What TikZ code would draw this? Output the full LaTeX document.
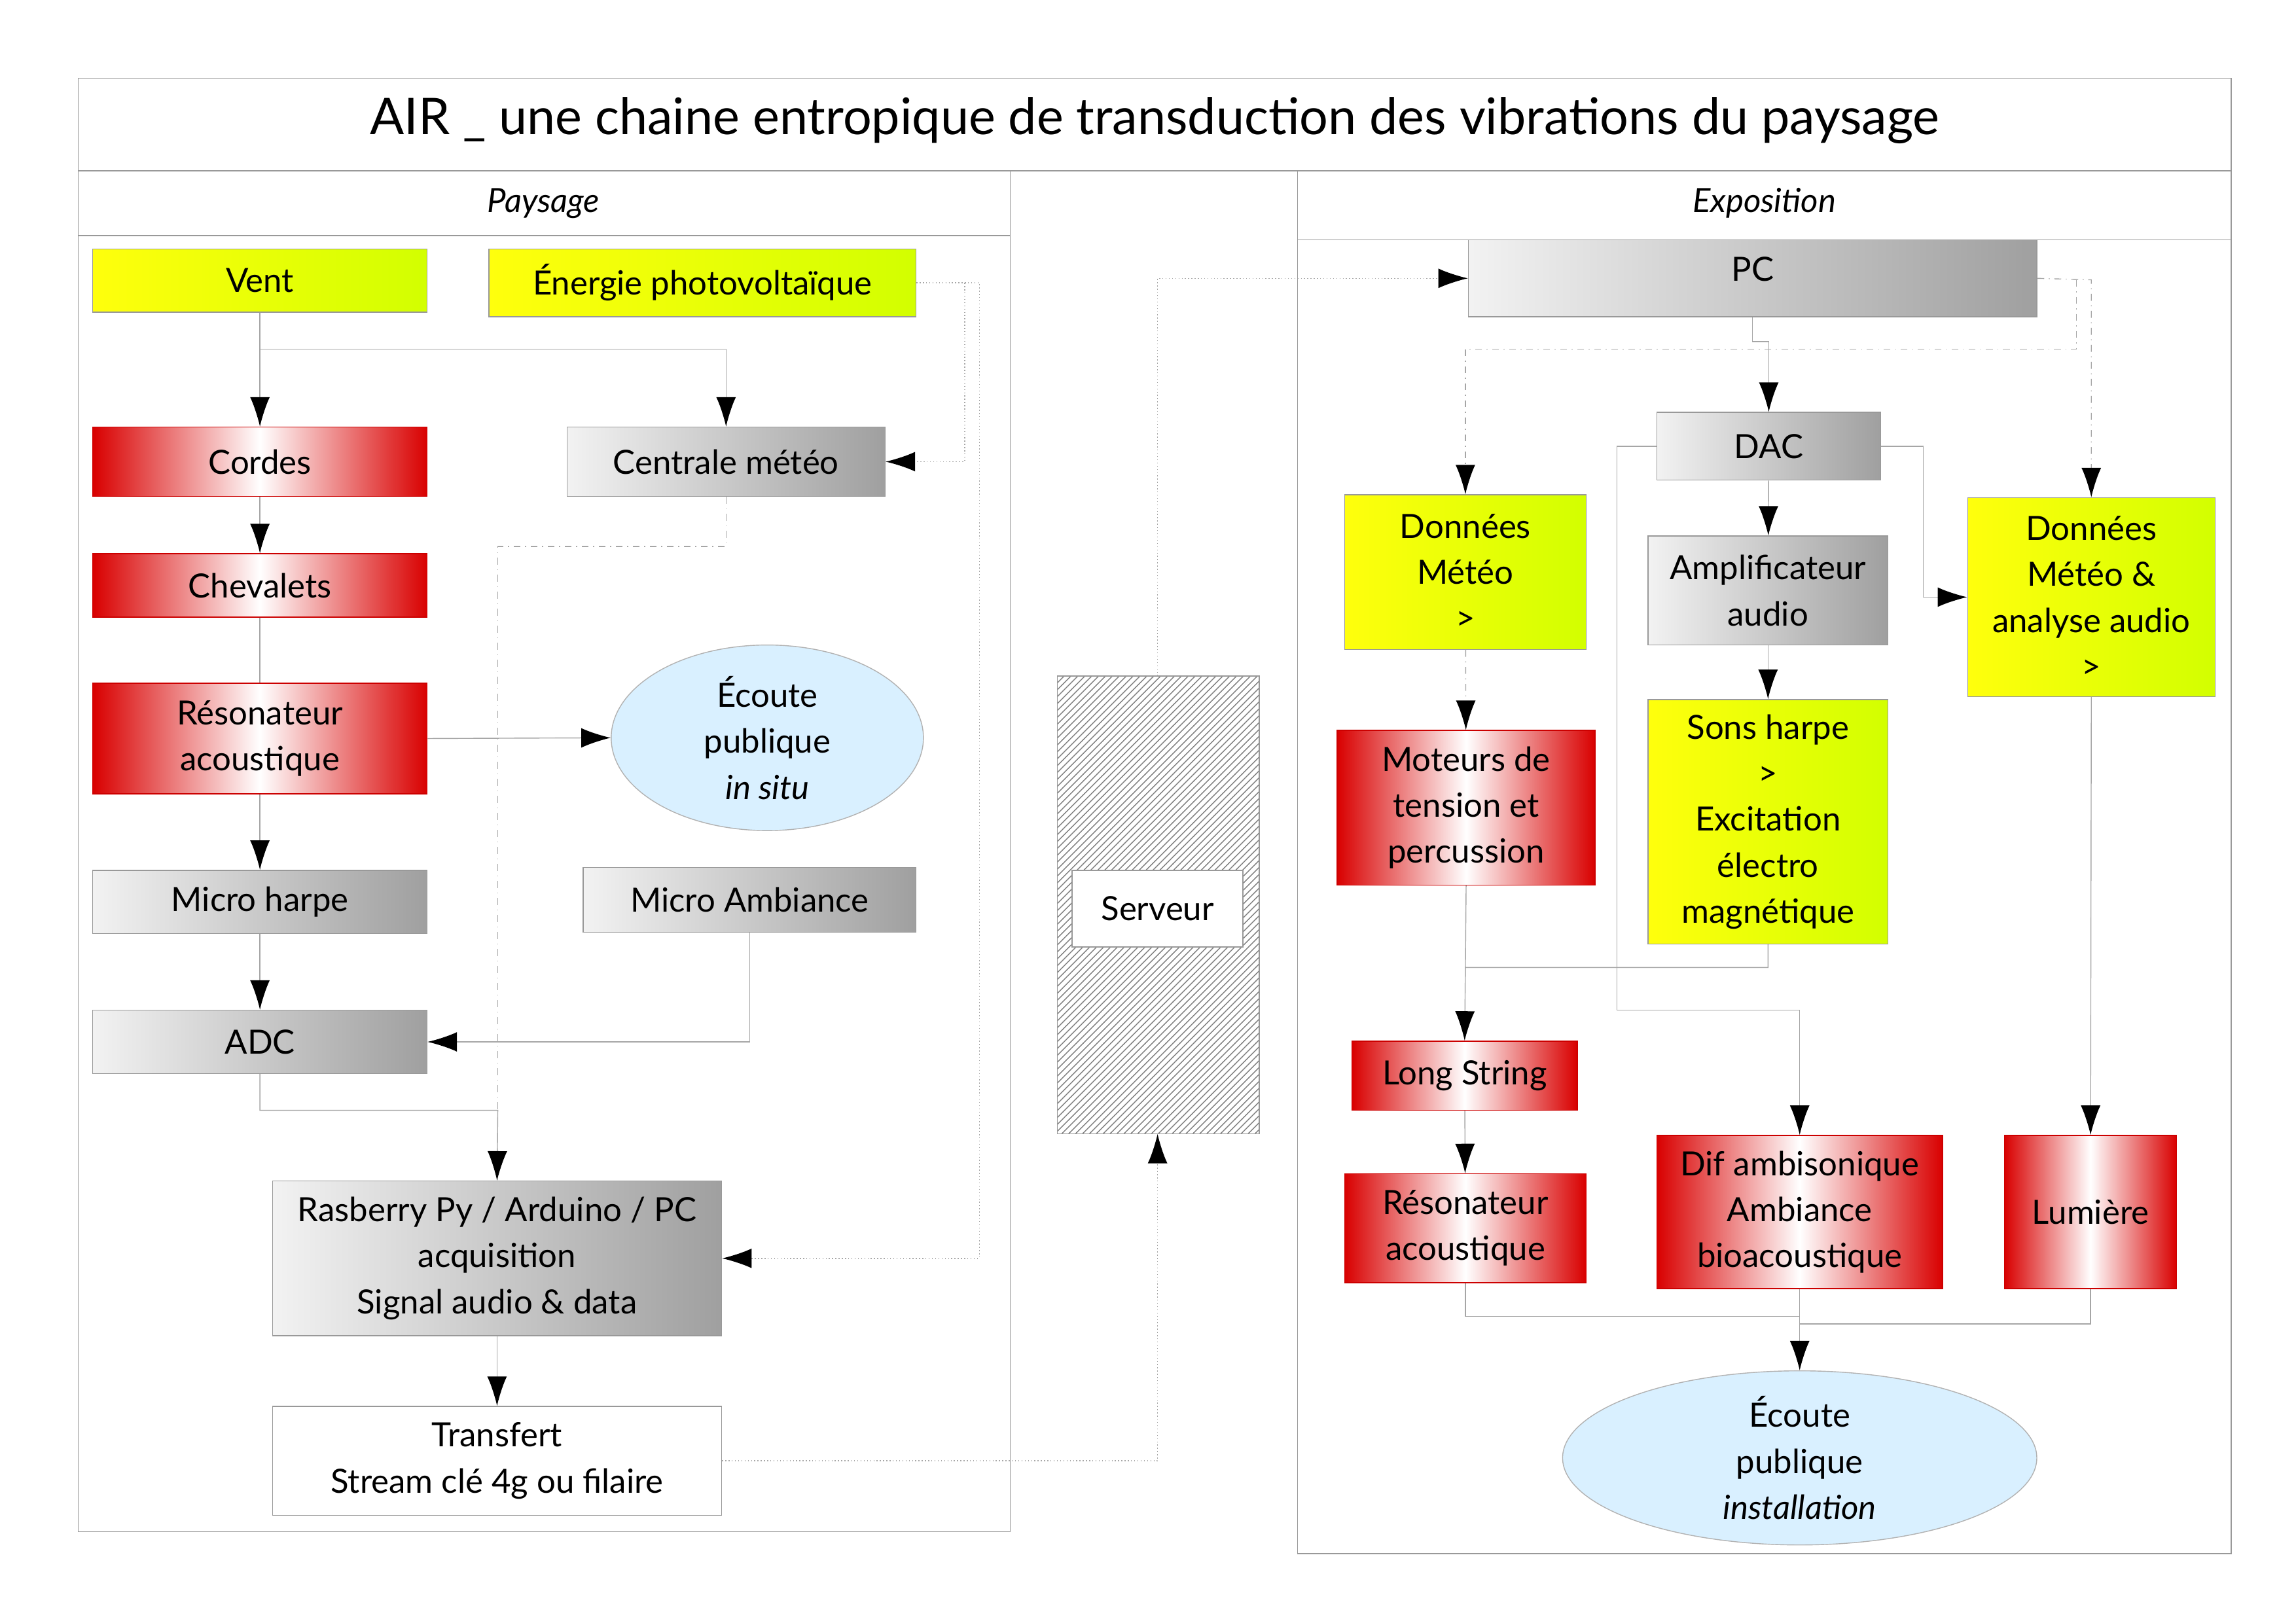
\documentclass[tikz,border=0pt]{standalone}
\usepackage{fontspec}
\setmainfont{Lato}
\usetikzlibrary{arrows.meta,patterns,shapes.geometric}

\tikzset{
  base/.style={inner sep=0pt, align=center, font=\fontsize{14.5}{20}\selectfont},
  yellowbox/.style={base, draw=gray!80, left color=yellow!95!white, right color=lime!70!yellow},
  redbox/.style={base, draw=red!80!black, left color=red!85!black, right color=red!85!black, middle color=white},
  graybox/.style={base, draw=gray!80, left color=gray!10, right color=gray!75},
  whitebox/.style={base, draw=gray!80, fill=white},
  listen/.style={base, ellipse, draw=gray!60, fill=blue!40!cyan!15},
  wire/.style={draw=gray!70, thin},
  tip/.style={-{Latex[length=4.5mm,width=3mm,black]}},
  flow/.style={wire, tip},
  dotwire/.style={wire, densely dotted},
  dashwire/.style={wire, dash dot},
}
% box from corner (x1,y1) to (x2,y2) in screen units
\newcommand{\boxnode}[7]{%
  \node[#2, minimum width={(#5-#3)*0.0225cm}, minimum height={(#6-#4)*0.0225cm}]
    (#1) at ({(#3+#5)/2},{(#4+#6)/2}) {#7};}

\begin{document}
\begin{tikzpicture}[x=0.0225cm, y=-0.0225cm]
\useasboundingbox (0,0) rectangle (1559,1102);

% frames
\draw[gray!80] (53,53) rectangle (1515,116);
\node[base, font=\fontsize{22}{26}\selectfont] (title) at (784,82) {AIR \_ une chaine entropique de transduction des vibrations du paysage};
\draw[gray!80] (53,116) rectangle (686,1040);
\draw[gray!80] (53,160) -- (686,160);
\node[base, font=\fontsize{14.5}{18}\itshape] (paysage) at (369,138) {Paysage};
\draw[gray!80] (881,116) rectangle (1515,1055);
\draw[gray!80] (881,163) -- (1515,163);
\node[base, font=\fontsize{14.5}{18}\itshape] (expo) at (1198,138) {Exposition};

% Paysage
\boxnode{vent}{yellowbox}{63}{169}{290}{212}{Vent}
\boxnode{energie}{yellowbox}{332}{169}{622}{215}{Énergie photovoltaïque}
\boxnode{cordes}{redbox}{63}{290}{290}{337}{Cordes}
\boxnode{centrale}{graybox}{385}{290}{601}{337}{Centrale météo}
\boxnode{chevalets}{redbox}{63}{376}{290}{419}{Chevalets}
\boxnode{reso}{redbox}{63}{464}{290}{539}{Résonateur\\acoustique}
\node[listen, minimum width={212*0.0225cm}, minimum height={126*0.0225cm}] (ecoute) at (521,501) {Écoute\\publique\\\textit{in situ}};
\boxnode{microharpe}{graybox}{63}{591}{290}{634}{Micro harpe}
\boxnode{microamb}{graybox}{396}{589}{622}{633}{Micro Ambiance}
\boxnode{adc}{graybox}{63}{686}{290}{729}{ADC}
\boxnode{rasb}{graybox}{185}{802}{490}{907}{Rasberry Py / Arduino / PC\\acquisition\\Signal audio \& data}
\boxnode{transfert}{whitebox}{185}{955}{490}{1029}{Transfert\\Stream clé 4g ou filaire}

% Serveur
\fill[white] (718,459) rectangle (855,770);
\draw[gray!80, pattern=north east lines, pattern color=gray] (718,459) rectangle (855,770);
\boxnode{serveur}{whitebox}{728}{591}{844}{643}{Serveur}
\coordinate (servtop) at (786,459);
\coordinate (servbot) at (786,770);

% Exposition
\boxnode{pc}{graybox}{997}{163}{1383}{215}{\raisebox{8pt}{PC}}
\boxnode{dac}{graybox}{1125}{280}{1277}{326}{DAC}
\boxnode{meteo}{yellowbox}{913}{336}{1077}{441}{Données\\Météo\\>}
\boxnode{ampli}{graybox}{1119}{364}{1282}{438}{Amplificateur\\audio}
\boxnode{analyse}{yellowbox}{1336}{338}{1504}{473}{Données\\Météo \&\\analyse audio\\>}
\boxnode{moteurs}{redbox}{908}{496}{1083}{601}{Moteurs de\\tension et\\percussion}
\boxnode{sons}{yellowbox}{1119}{475}{1282}{641}{Sons harpe\\>\\Excitation\\électro\\magnétique}
\boxnode{long}{redbox}{918}{707}{1071}{754}{Long String}
\boxnode{reso2}{redbox}{913}{797}{1077}{871}{Résonateur\\acoustique}
\boxnode{dif}{redbox}{1125}{771}{1319}{875}{Dif ambisonique\\Ambiance\\bioacoustique}
\boxnode{lumiere}{redbox}{1361}{771}{1478}{875}{Lumière}
\node[listen, minimum width={322*0.0225cm}, minimum height={110*0.0225cm}] (ecoute2) at (1222,990) {Écoute\\publique\\\textit{installation}};

% connectors, paysage
\draw[flow] (vent) -- (cordes);
\draw[flow] (vent.south) |- (493,237) -- (centrale.north);
\draw[dotwire, tip] (energie.east) -- (655,192) |- (centrale.east);
\draw[dotwire, tip] (energie.east) -- (665,192) |- (rasb.east);
\draw[flow] (cordes) -- (chevalets);
\draw[wire] (chevalets) -- (reso);
\draw[flow] (reso.east) -- (ecoute.west);
\draw[flow] (reso) -- (microharpe);
\draw[flow] (microharpe) -- (adc);
\draw[flow] (microamb.south) |- (adc.east);
\draw[dashwire] (centrale.south) -- (493,371) -| (338,760);
\draw[flow] (adc.south) |- (338,754) -- (rasb.north);
\draw[flow] (rasb) -- (transfert);
\draw[dotwire, tip] (transfert.east) -| (servbot);
\draw[dotwire, tip] (servtop) |- (pc.west);

% connectors, exposition
\draw[flow] (pc.south) -- (1190,232) -| (dac.north);
\draw[dashwire, tip] (pc.east) -- (1420,190) -- (analyse.north);
\draw[dashwire, tip] (1410,190) |- (995,237) -- (meteo.north);
\draw[flow] (dac) -- (ampli);
\draw[flow] (ampli) -- (sons);
\draw[flow] (dac.east) -- (1306,303) |- (analyse.west);
\draw[flow] (dac.west) -- (1098,303) |- (1222,686) -- (dif.north);
\draw[dashwire, tip] (meteo) -- (moteurs);
\draw[wire] (moteurs.south) -- (995,657);
\draw[flow] (sons.south) |- (995,657) -- (long.north);
\draw[flow] (long) -- (reso2);
\draw[flow] (analyse.south) -- (lumiere.north);
\draw[flow] (reso2.south) |- (1222,894) -- (ecoute2.north);
\draw[wire] (dif.south) -- (1222,894);
\draw[wire] (lumiere.south) |- (1222,899);
\end{tikzpicture}
\end{document}
